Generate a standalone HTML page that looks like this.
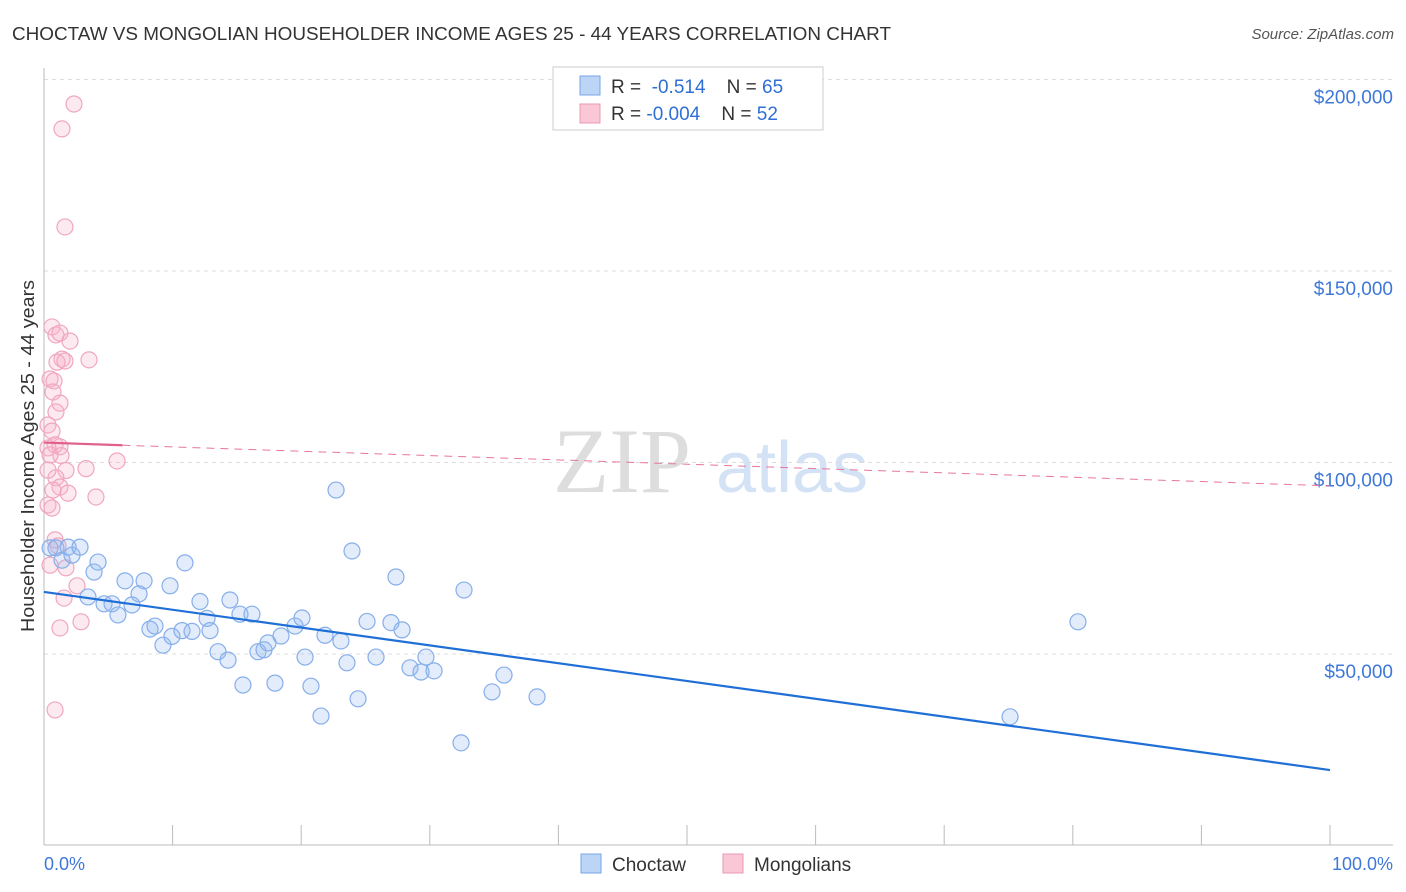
<!DOCTYPE html>
<html><head><meta charset="utf-8"><style>
body{margin:0;background:#fff;font-family:"Liberation Sans",sans-serif;}
svg{display:block}
</style></head><body>
<svg width="1406" height="892">
<text x="12" y="40" font-size="18" fill="#333" textLength="879" lengthAdjust="spacingAndGlyphs">CHOCTAW VS MONGOLIAN HOUSEHOLDER INCOME AGES 25 - 44 YEARS CORRELATION CHART</text>
<text x="1394" y="39" font-size="15" fill="#555" font-style="italic" text-anchor="end">Source: ZipAtlas.com</text>
<g><text x="553" y="492" font-size="92" fill="#ddd" font-family="Liberation Serif,serif">ZIP</text><text x="716" y="492" font-size="72" fill="#d4e2f5">atlas</text></g>
<g id="grid"></g>
<line x1="44" y1="68" x2="44" y2="845" stroke="#bbb"/>
<line x1="44" y1="845" x2="1393" y2="845" stroke="#bbb"/>
<text transform="translate(34,456) rotate(-90)" font-size="18" fill="#333" text-anchor="middle" textLength="352" lengthAdjust="spacingAndGlyphs">Householder Income Ages 25 - 44 years</text>
<text x="44" y="870" font-size="18" fill="#3d78d8">0.0%</text>
<text x="1393" y="870" font-size="18" fill="#3d78d8" text-anchor="end">100.0%</text>
<g id="marks"></g>
<g>
<rect x="553" y="67" width="270" height="63" fill="#fff" stroke="#ccc"/>
<rect x="580" y="76" width="20" height="19" fill="#bcd4f5" stroke="#7aa6e6"/>
<rect x="580" y="104" width="20" height="19" fill="#f9c7d6" stroke="#eb9ab4"/>
<text x="611" y="93" font-size="19" fill="#333">R = <tspan fill="#2f6fd3">&#160;-0.514</tspan>&#160;&#160;&#160; N = <tspan fill="#2f6fd3">65</tspan></text>
<text x="611" y="120" font-size="19" fill="#333">R = <tspan fill="#2f6fd3">-0.004</tspan>&#160;&#160;&#160; N = <tspan fill="#2f6fd3">52</tspan></text>
</g>
<g>
<rect x="581" y="854" width="20" height="19" fill="#bcd4f5" stroke="#7aa6e6"/>
<text x="612" y="871" font-size="19" fill="#333">Choctaw</text>
<rect x="723" y="854" width="20" height="19" fill="#f9c7d6" stroke="#eb9ab4"/>
<text x="754" y="871" font-size="19" fill="#333">Mongolians</text>
</g>
</svg>
<script>
const yTicks=[50000,100000,150000,200000];
const yTickLabels=["$50,000","$100,000","$150,000","$200,000"];
const xTicks=[0,10,20,30,40,50,60,70,80,90,100];
const blueX=[0.47,0.93,1.4,1.87,2.18,2.8,3.42,3.89,4.2,4.67,5.29,5.75,6.3,6.84,7.39,7.78,8.24,8.63,9.25,9.8,9.95,10.73,10.96,11.51,12.13,12.68,12.91,13.53,14.31,14.46,15.24,15.47,16.17,16.64,17.11,17.42,17.96,18.43,19.52,20.06,20.3,20.76,21.54,21.85,22.71,23.09,23.56,23.95,24.42,25.12,25.82,26.98,27.37,27.84,28.46,29.32,29.7,30.33,32.43,32.66,34.84,35.77,38.34,75.12,80.4];
const blueY=[77.7,77.7,74.5,77.9,75.8,77.9,64.9,71.4,74.0,63.1,63.1,60.2,69.1,62.8,65.7,69.1,56.5,57.3,52.3,67.8,54.6,56.1,73.8,55.9,63.7,59.3,56.1,50.6,48.4,64.1,60.4,41.9,60.4,50.6,51.1,52.9,42.4,54.7,57.3,59.4,49.2,41.6,33.8,54.9,92.8,53.4,47.7,76.9,38.3,58.5,49.2,58.2,70.1,56.3,46.4,45.3,49.2,45.6,26.8,66.7,40.1,44.5,38.8,33.6,58.4];
const pinkX=[2.33,1.4,1.63,0.62,0.93,1.24,2.02,1.4,1.01,1.63,3.5,0.47,0.78,0.7,1.24,0.93,0.31,0.62,0.86,1.24,0.31,1.32,1.71,3.27,5.68,0.93,1.24,0.7,1.87,4.04,0.31,0.62,0.86,1.09,1.71,0.47,2.57,1.56,2.88,1.24,0.86,0.31,0.47];
const pinkY=[193.6,187.1,161.5,135.4,133.3,133.8,131.7,127.0,126.2,126.5,126.8,121.8,121.3,118.4,115.5,113.2,109.8,108.2,104.6,104.1,103.8,101.8,97.9,98.4,100.4,96.0,93.6,92.8,92.0,91.0,88.9,88.1,79.8,78.2,72.5,73.2,67.8,64.6,58.4,56.8,35.4,98.0,102.0];
const blueTrend=[66.2,19.7];
const pinkTrend=[105.2,93.9];
const pinkSolidEnd=6.1;
const NS="http://www.w3.org/2000/svg";
function sx(p){return 44+p*12.86;}
function sy(v){return 845.5-v/50000*191.5;}
function mk(t,a,p){const e=document.createElementNS(NS,t);for(const k in a)e.setAttribute(k,a[k]);p.appendChild(e);return e;}
const grid=document.getElementById('grid'),marks=document.getElementById('marks');
yTicks.forEach((v,i)=>{
 const l=mk('line',{x1:44,x2:1393,y1:sy(v),y2:sy(v),stroke:'#ddd','stroke-dasharray':'4,4'},grid);
 
 
 const t=mk('text',{x:1393,y:sy(v)+24,'font-size':19,fill:'#3d78d8','text-anchor':'end'},grid);
 t.textContent=yTickLabels[i];
 
 
});
xTicks.forEach(p=>{
 const l=mk('line',{x1:sx(p),x2:sx(p),y1:825,y2:845,stroke:'#bbb'},grid);
 
 
});
pinkX.forEach((x,i)=>{
 const c=mk('circle',{cx:sx(x),cy:sy(pinkY[i]*1000),r:8,fill:'rgba(248,180,202,0.28)',stroke:'#f0a6bf','stroke-width':1.2},marks);
 
 
});
blueX.forEach((x,i)=>{
 const c=mk('circle',{cx:sx(x),cy:sy(blueY[i]*1000),r:8,fill:'rgba(150,188,242,0.28)',stroke:'#86aeea','stroke-width':1.2},marks);
 
 
});
const bl=mk('line',{x1:sx(0),y1:sy(blueTrend[0]*1000),x2:sx(100),y2:sy(blueTrend[1]*1000),stroke:'#1f6fd6','stroke-width':2.2},marks);


const pyAt=p=>pinkTrend[0]+(pinkTrend[1]-pinkTrend[0])*p/100;
const pd=mk('line',{x1:sx(pinkSolidEnd),y1:sy(pyAt(pinkSolidEnd)*1000),x2:sx(100),y2:sy(pinkTrend[1]*1000),stroke:'#e7769c','stroke-width':1,'stroke-dasharray':'8,6'},marks);


const ps=mk('line',{x1:sx(0),y1:sy(pinkTrend[0]*1000),x2:sx(pinkSolidEnd),y2:sy(pyAt(pinkSolidEnd)*1000),stroke:'#e0608a','stroke-width':2.2},marks);


</script>
</body></html>
